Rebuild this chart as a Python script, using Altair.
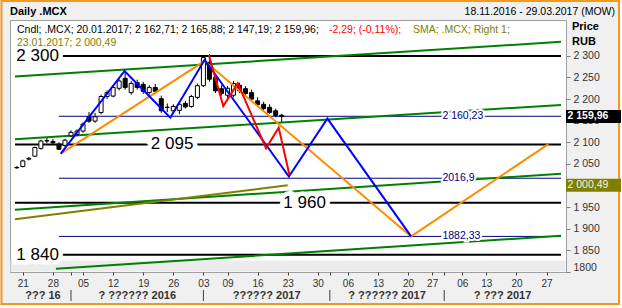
import json
import altair as alt
import pandas as pd

# ---------------- data ----------------
# trading-day index: 0 = 21.11.2016 (weekends / holidays skipped)
candle_day = list(range(-1, 44))
candle_open = [2042, 2044, 2061, 2068, 2086, 2103, 2102, 2096, 2093, 2115, 2118, 2126, 2159, 2149, 2169,
               2206, 2207, 2225, 2248, 2215, 2238, 2234, 2215, 2227, 2201, 2181, 2173, 2174, 2190, 2183,
               2204, 2231, 2285, 2250, 2224, 2209, 2209, 2232, 2224, 2215, 2196, 2188, 2181, 2173, 2162.71]
candle_high = [2045, 2060, 2066, 2090, 2106, 2110, 2108, 2100, 2108, 2128, 2130, 2146, 2170, 2168, 2210,
               2220, 2232, 2246, 2262, 2242, 2245, 2240, 2232, 2235, 2208, 2190, 2188, 2195, 2196, 2210,
               2236, 2300, 2304, 2256, 2232, 2230, 2242, 2238, 2230, 2222, 2204, 2194, 2188, 2178, 2165.88]
candle_low = [2039, 2042, 2058, 2066, 2083, 2098, 2096, 2082, 2090, 2112, 2114, 2122, 2145, 2145, 2165,
              2200, 2204, 2220, 2222, 2210, 2222, 2212, 2210, 2212, 2168, 2170, 2168, 2165, 2178, 2180,
              2200, 2228, 2240, 2214, 2208, 2200, 2204, 2214, 2208, 2196, 2183, 2174, 2166, 2158, 2147.19]
candle_close = [2041, 2057, 2063, 2088, 2103, 2104, 2099, 2084, 2105, 2123, 2126, 2142, 2149, 2159, 2206,
                2215, 2227, 2242, 2227, 2236, 2227, 2218, 2227, 2218, 2173, 2181, 2183, 2188, 2182, 2206,
                2231, 2296, 2246, 2219, 2213, 2225, 2236, 2219, 2213, 2200, 2187, 2178, 2169, 2162.25, 2159.96]

blue_day = [6.3, 16.9, 24.5, 30.2, 44.2, 50.6, 64.5]
blue_val = [2074, 2265, 2157, 2291, 2021, 2155, 1882.33]
orange_day = [6.3, 30.2, 64.5, 87.3]
orange_val = [2074, 2288, 1882.33, 2096]
red_day = [30.9, 33.3, 35.7, 40.4, 42.5, 44.3]
red_val = [2302, 2184, 2237, 2086, 2134, 2024]

green_start_day = [-1.3, -1.3, -1.3, 5.5]
green_start_val = [2252.3, 2107.2, 1944.0, 1807.6]
green_end_day = [89.4, 89.4, 89.4, 89.4]
green_end_val = [2332.4, 2186.6, 2027.3, 1883.8]

sma_day = [-1.3, 20, 44]
sma_val = [1922, 1959, 2000.49]

navy_levels = [2160.23, 2016.9, 1882.33]
navy_labels = ["2 160,23", "2016,9", "1882,33"]
navy_start_day = 6.0
navy_label_day = 69.7

black_levels = [2300, 2095, 1960, 1840]
black_labels = ["2 300", "2 095", "1 960", "1 840"]
black_label_day = [2.45, 24.8, 46.8, 2.45]

x_tick_day = [0, 5, 10, 15, 20, 25, 30, 34, 39, 44, 49, 54, 59, 64, 68, 73, 77, 82, 87]
x_tick_label = ["21", "28", "05", "12", "19", "26", "03", "09", "16", "23", "30",
                "06", "13", "20", "27", "06", "13", "20", "27"]
month_bounds = [8, 30, 51, 70]
month_labels = ["??? 16", "? ?????? 2016", "?????? 2017", "? ?????? 2017", "? ??? 2017"]

y_ticks = [1800, 1850, 1900, 1950, 2000, 2050, 2100, 2150, 2200, 2250, 2300]
y_tick_labels = ["1800", "1 850", "1 900", "1 950", "2 000", "2 050", "2 100", "2 150",
                 "2 200", "2 250", "2 300"]

last_close = 2159.96
last_close_label = "2 159,96"
sma_last = 2000.49
sma_last_label = "2 000,49"

# ---------------- layout ----------------
W, H = 556, 252
X_DOMAIN = [-1.3, 89.4]
Y_DOMAIN = [1800, 2383]
FONT = "Liberation Sans"
xs = alt.Scale(domain=X_DOMAIN, nice=False, zero=False)
ys = alt.Scale(domain=Y_DOMAIN, nice=False, zero=False)
px_per_unit = H / (Y_DOMAIN[1] - Y_DOMAIN[0])


def one():
    return alt.Data(values=[{"k": 1}])


candles = pd.DataFrame({"day": candle_day, "open": candle_open, "high": candle_high,
                        "low": candle_low, "close": candle_close})
candles["fill"] = ["white" if c >= o else "black" for o, c in zip(candle_open, candle_close)]

all_tick_vals = x_tick_day + month_bounds
all_tick_labels = x_tick_label + [""] * len(month_bounds)
x_label_expr = f"{json.dumps(all_tick_labels)}[indexof({json.dumps(all_tick_vals)}, datum.value)]"
y_label_expr = f"{json.dumps(y_tick_labels)}[indexof({json.dumps(y_ticks)}, datum.value)]"

x_axis = alt.Axis(values=all_tick_vals, labelExpr=x_label_expr, title=None, grid=False, domain=False,
                  orient="bottom", tickSize=3, tickColor="#404040", labelPadding=3, labelFont=FONT,
                  labelFontSize=10, labelColor="#333333", labelFlush=False, labelOverlap=False)
y_axis = alt.Axis(values=y_ticks, labelExpr=y_label_expr, orient="right", title=None, grid=False,
                  domain=False, tickSize=4, tickColor="#808080", labelPadding=3, labelFont=FONT,
                  labelFontSize=10.5, labelColor="#333333", labelFlush=True, labelOverlap=False)


def X(field):
    return alt.X(field, scale=xs, axis=x_axis)


def Y(field):
    return alt.Y(field, scale=ys, axis=y_axis)


# orange outer border, white outside it
outer = alt.Chart(one()).mark_rect(fill=None, stroke="#f39a1e", strokeWidth=2).encode(
    x=alt.value(-8.5), x2=alt.value(609), y=alt.value(-19), y2=alt.value(284))
edge_r = alt.Chart(one()).mark_rect(fill="white").encode(
    x=alt.value(610), x2=alt.value(613), y=alt.value(-20), y2=alt.value(290))
edge_b = alt.Chart(one()).mark_rect(fill="white").encode(
    x=alt.value(-10), x2=alt.value(613), y=alt.value(285), y2=alt.value(290))
band = alt.Chart(one()).mark_rect(fill="#ececec").encode(
    x=alt.value(0.5), x2=alt.value(W - 0.5), y=alt.value(240.5), y2=alt.value(H - 0.5))

# horizontal levels
navy_df = pd.DataFrame({"val": navy_levels, "label": navy_labels,
                        "x0": navy_start_day, "x1": X_DOMAIN[1], "lx": navy_label_day})
navy_lines = alt.Chart(navy_df).mark_rule(color="#000080", strokeWidth=1).encode(
    x=X("x0:Q"), x2="x1:Q", y=Y("val:Q"))
black_df = pd.DataFrame({"val": black_levels, "label": black_labels,
                         "x0": X_DOMAIN[0], "x1": X_DOMAIN[1], "lx": black_label_day})
black_lines = alt.Chart(black_df).mark_rule(color="black", strokeWidth=2).encode(
    x=X("x0:Q"), x2="x1:Q", y=Y("val:Q"))

# green channel lines
green_rows = []
for i in range(len(green_start_day)):
    green_rows.append({"line": i, "day": green_start_day[i], "val": green_start_val[i]})
    green_rows.append({"line": i, "day": green_end_day[i], "val": green_end_val[i]})
green = alt.Chart(pd.DataFrame(green_rows)).mark_line(color="#008000", strokeWidth=2).encode(
    x=X("day:Q"), y=Y("val:Q"), detail="line:N")

sma = alt.Chart(pd.DataFrame({"day": sma_day, "val": sma_val})).mark_line(
    color="#808000", strokeWidth=2).encode(x=X("day:Q"), y=Y("val:Q"))

# candles
wicks = alt.Chart(candles).mark_rule(color="black", strokeWidth=1).encode(
    x=X("day:Q"), y=Y("low:Q"), y2="high:Q")
bodies = alt.Chart(candles).mark_bar(size=4, stroke="black", strokeWidth=1).encode(
    x=X("day:Q"), y=Y("open:Q"), y2="close:Q", fill=alt.Fill("fill:N", scale=None))


def zigzag(days, vals, color):
    df = pd.DataFrame({"day": days, "val": vals, "i": range(len(days))})
    return alt.Chart(df).mark_line(color=color, strokeWidth=2).encode(
        x=X("day:Q"), y=Y("val:Q"), order="i:Q")


orange = zigzag(orange_day, orange_val, "#ff8c00")
blue = zigzag(blue_day, blue_val, "#0000ff")
red = zigzag(red_day, red_val, "#ff0000")


def level_text(df, size, halo, color, align):
    base = dict(align=align, baseline="middle", font=FONT, fontSize=size)
    enc = dict(x=X("lx:Q"), y=Y("val:Q"), text="label:N")
    h = alt.Chart(df).mark_text(fill="white", stroke="white", strokeWidth=halo, **base).encode(**enc)
    t = alt.Chart(df).mark_text(color=color, **base).encode(**enc)
    return [h, t]


navy_labels_layers = level_text(navy_df, 10.5, 4, "#000080", "left")
black_labels_layers = level_text(black_df, 17, 9, "black", "center")

# price tags on the right
tag_half = 6.5 / px_per_unit
tags_df = pd.DataFrame({"val": [last_close, sma_last], "label": [last_close_label, sma_last_label],
                        "bg": ["black", "#808000"]})
tags_df["lo"] = tags_df["val"] - tag_half
tags_df["hi"] = tags_df["val"] + tag_half
tag_boxes = alt.Chart(tags_df).mark_rect().encode(
    x=alt.value(W), x2=alt.value(611), y=Y("lo:Q"), y2="hi:Q",
    fill=alt.Fill("bg:N", scale=None))
tag_text1 = alt.Chart(tags_df.iloc[[0]]).mark_text(align="left", baseline="middle", font=FONT,
                                                    fontSize=10.5, fontWeight="bold", color="white").encode(
    x=alt.value(W + 1.5), y=Y("val:Q"), text="label:N")
tag_text2 = alt.Chart(tags_df.iloc[[1]]).mark_text(align="left", baseline="middle", font=FONT,
                                                    fontSize=10.5, color="#f4f4e0").encode(
    x=alt.value(W + 1.5), y=Y("val:Q"), text="label:N")

# month row
mb = [X_DOMAIN[0]] + month_bounds + [X_DOMAIN[1]]
month_df = pd.DataFrame({"mid": [(mb[i] + mb[i + 1]) / 2 for i in range(len(month_labels))],
                         "label": month_labels})
month_text = alt.Chart(month_df).mark_text(baseline="middle", font=FONT, fontSize=11,
                                           fontWeight="bold", color="#333333").encode(
    x=X("mid:Q"), y=alt.value(275.5), text="label:N")
month_sep = alt.Chart(pd.DataFrame({"b": month_bounds})).mark_rule(color="#404040").encode(
    x=X("b:Q"), y=alt.value(270), y2=alt.value(281))


# header and legend texts (annotation positions in pixels)
def note(txt, x, y, color="black", bold=False, align="left", size=10.5):
    return alt.Chart(one()).mark_text(align=align, baseline="middle", font=FONT, fontSize=size,
                                      fontWeight="bold" if bold else "normal", color=color).encode(
        x=alt.value(x - 10), y=alt.value(y - 20), text=alt.value(txt))


notes = [
    note("Daily .MCX", 10, 12, bold=True, size=11),
    note("18.11.2016 - 29.03.2017 (MOW)", 615, 12, align="right"),
    note("Price", 572, 27, bold=True, size=11),
    note("RUB", 572, 42, bold=True, size=11),
    note("Cndl; .MCX; 20.01.2017; 2 162,71; 2 165,88; 2 147,19; 2 159,96;", 17, 29.5),
    note("-2,29; (-0,11%);", 329, 29.5, color="#ff0000"),
    note("SMA; .MCX; Right 1;", 413, 29.5, color="#808000"),
    note("23.01.2017; 2 000,49", 17, 43, color="#808000"),
]

chart = alt.layer(
    navy_lines, band, outer, edge_r, edge_b,
    black_lines, green, sma,
    wicks, bodies,
    orange, blue, red,
    *navy_labels_layers, *black_labels_layers,
    tag_boxes, tag_text1, tag_text2,
    month_text, month_sep,
    *notes,
).properties(
    width=W, height=H,
    padding={"left": 10, "top": 20, "right": 56, "bottom": 36},
    autosize=alt.AutoSizeParams(type="none"),
    background="#f0f0f0",
).configure_view(fill="white", stroke="#a0a0a0")

chart.save("out.html", embed_options={"renderer": "svg", "actions": False})
